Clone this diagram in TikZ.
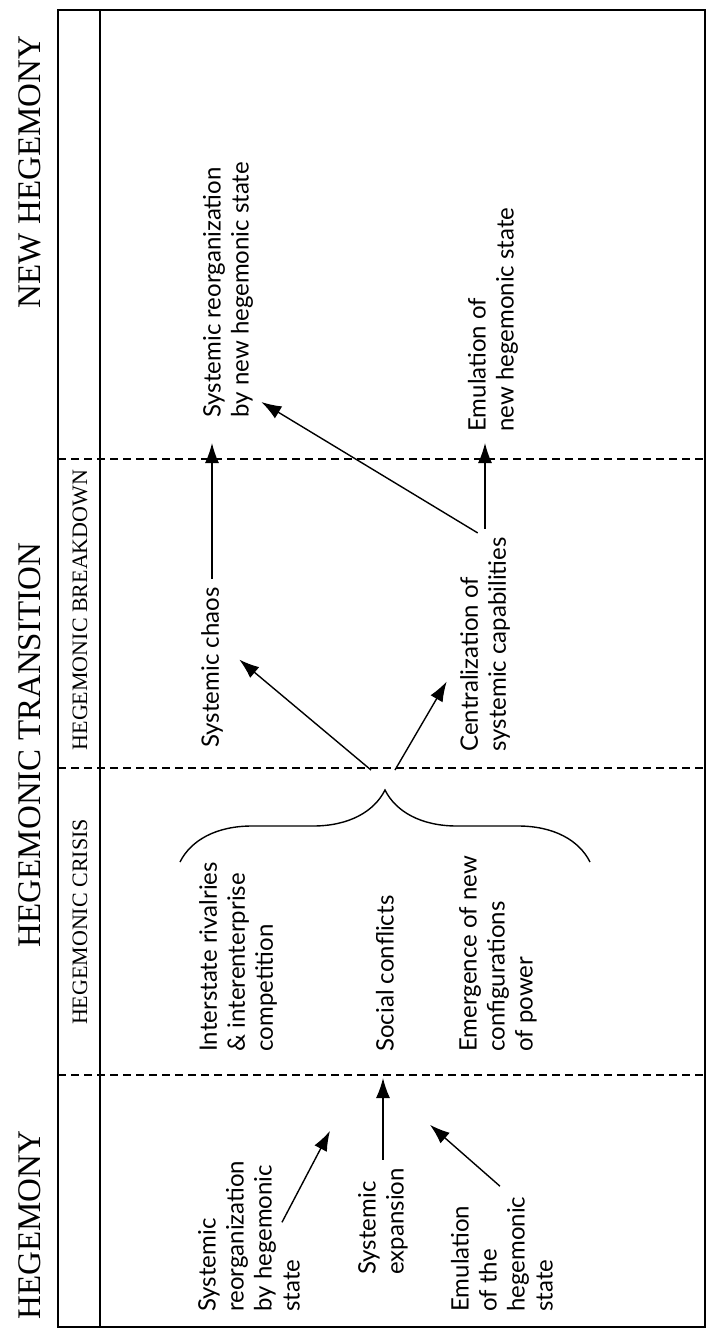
\documentclass[tikz,border=0pt]{standalone}
\usepackage{fontspec}
\setmainfont{Liberation Serif}
\newfontfamily\bodyfont{Lato}
\usetikzlibrary{arrows.meta,decorations.pathreplacing,calc}

\tikzset{
  phase/.style={rotate=90, inner sep=0pt, font=\fontsize{16.5}{18}\selectfont},
  subphase/.style={rotate=90, inner sep=0pt, font=\fontsize{11}{13}\selectfont},
  event/.style={rotate=90, anchor=west, align=left, inner sep=0pt,
    font=\bodyfont\fontsize{12}{14}\selectfont},
  push/.style={-{Latex[length=10pt,width=7pt]}, line width=0.7pt},
  cut/.style={line width=1pt, dash pattern=on 4pt off 2.5pt},
  bracket/.style={decorate, decoration={brace, amplitude=36pt, aspect=0.5}, line width=0.7pt}
}

\begin{document}
\begin{tikzpicture}[x=0.5pt, y=-0.5pt]
  \useasboundingbox (0,0) rectangle (708,1333);
  % Frame
  \draw[line width=1pt] (58,10) rectangle (705,1327);
  \draw[line width=0.8pt] (100,10) -- (100,1327);
  % Phase borders
  \foreach \y/\cutname in {459/cutnew, 768/cutmid, 1075/cutold} {
    \draw[cut] (58,\y) -- (705,\y);
    \coordinate (\cutname) at (0,\y);
  }
  % Phases
  \node[phase] (newheg) at (30,172) {NEW HEGEMONY};
  \node[phase] (transition) at (30,745) {HEGEMONIC TRANSITION};
  \node[phase] (hegemony) at (30,1225) {HEGEMONY};
  \node[subphase] (breakdown) at (80,610) {HEGEMONIC BREAKDOWN};
  \node[subphase] (crisis) at (80,922) {HEGEMONIC CRISIS};
  % New hegemony
  \node[event] (reorgnew) at (228,418) {Systemic reorganization\\by new hegemonic state};
  \node[event] (emunew) at (493,432) {Emulation of\\new hegemonic state};
  % Breakdown
  \node[event] (chaos) at (212,748) {Systemic chaos};
  \node[event] (central) at (485,752) {Centralization of\\systemic capabilities};
  % Crisis
  \node[event] (rivalry) at (238,1052) {Interstate rivalries\\\& interenterprise\\competition};
  \node[event] (social) at (385,1052) {Social conflicts};
  \node[event] (emerge) at (498,1052) {Emergence of new\\configurations\\of power};
  % Hegemony
  \node[event] (expansion) at (383,1275) {Systemic\\expansion};
  \node[event] (reorgold) at (249,1312) {Systemic\\reorganization\\by hegemonic\\state};
  \node[event] (emuold) at (502,1312) {Emulation\\of the\\hegemonic\\state};
  % Arrows
  \draw[push, shorten <=4pt] (chaos.east) -- ($(chaos.east |- cutnew)+(0,-16)$);
  \draw[push, shorten <=4pt] (central.east) -- ($(central.east |- cutnew)+(0,-16)$);
  \draw[push] ($(central.north east)+(18,-4)$) -- ($(reorgnew.south west)+(8,-16)$);
  \draw[bracket] (180,862) -- (590,862);
  \coordinate (bracetip) at (383,782);
  \draw[push] ($(bracetip)+(-12,-12)$) -- ($(chaos.south)+(16,-8)$);
  \draw[push] ($(bracetip)+(12,-12)$) -- ($(central.north)+(-13,37)$);
  \draw[push, shorten <=4pt] (expansion.east) -- ($(expansion.east |- cutold)+(0,3)$);
  \draw[push] ($(reorgold.east)+(33,62)$) -- ($(expansion.east)+(-53,-37)$);
  \draw[push] ($(emuold.east)+(-2,-10)$) -- ($(expansion.east)+(47,-43)$);
\end{tikzpicture}
\end{document}
